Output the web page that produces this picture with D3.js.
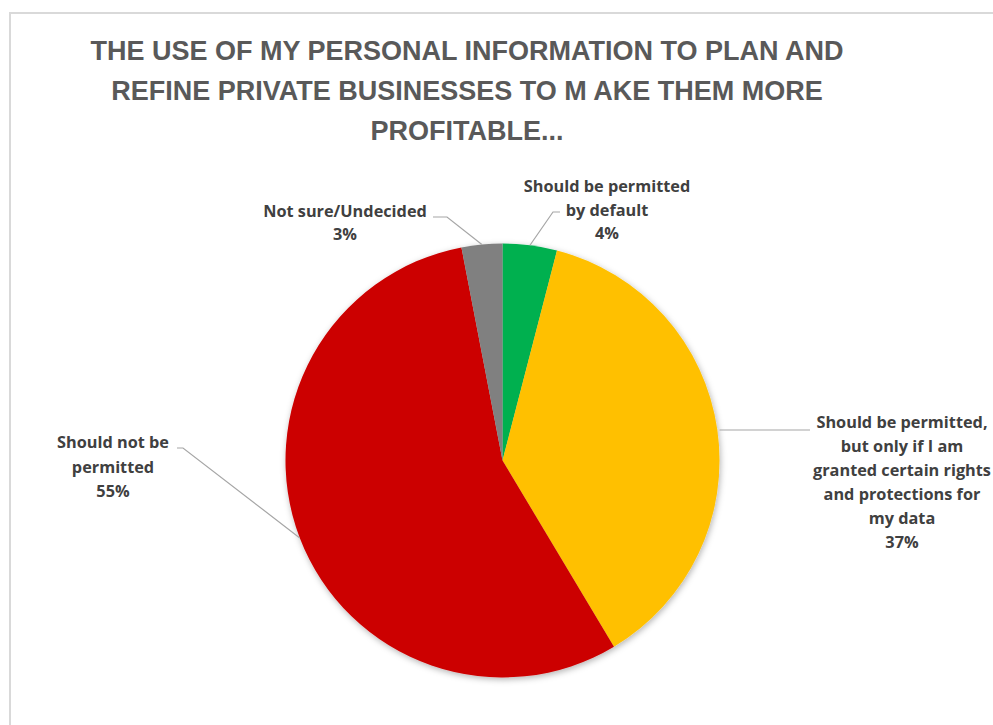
<!DOCTYPE html>
<html>
<head>
<meta charset="utf-8">
<script src="https://cdn.jsdelivr.net/npm/d3@7"></script>
<style>
  html, body { margin: 0; padding: 0; background: #fff; }
  svg { display: block; }
</style>
</head>
<body>
<svg id="chart" width="993" height="725"></svg>
<script>
// Survey answers, clockwise from 12 o'clock
const categories = [
  "Should be permitted by default",
  "Should be permitted, but only if I am granted certain rights and protections for my data",
  "Should not be permitted",
  "Not sure/Undecided"
];
const values = [4, 37, 55, 3];
const colors = ["#00B050", "#FFC000", "#CC0000", "#808080"];
// Label lines as they wrap on the chart
const labelLines = [
  ["Should be permitted", "by default", "4%"],
  ["Should be permitted,", "but only if I am", "granted certain rights", "and protections for", "my data", "37%"],
  ["Should not be", "permitted", "55%"],
  ["Not sure/Undecided", "3%"]
];
const titleLines = [
  "THE USE OF MY PERSONAL INFORMATION TO PLAN AND",
  "REFINE PRIVATE BUSINESSES TO M AKE THEM MORE",
  "PROFITABLE..."
];

const svg = d3.select("#chart");
const W = 993, H = 725;

// chart frame
svg.append("path")
  .attr("d", `M10,${H} L10,13 L${W},13`)
  .attr("fill", "none").attr("stroke", "#d9d9d9").attr("stroke-width", 2);

// title
svg.append("g").selectAll("text").data(titleLines).join("text")
  .attr("x", 467).attr("y", (d, i) => 60 + i * 40)
  .attr("text-anchor", "middle")
  .attr("font-family", "'Liberation Sans Narrow', 'Arial Narrow', sans-serif")
  .attr("font-weight", "bold").attr("font-size", 27)
  .attr("fill", "#595959")
  .text(d => d);

const cx = 502.5, cy = 460.5, R = 217;

const defs = svg.append("defs");
const f = defs.append("filter").attr("id", "shadow")
  .attr("x", "-10%").attr("y", "-10%").attr("width", "120%").attr("height", "120%");
f.append("feDropShadow").attr("dx", 1).attr("dy", 2).attr("stdDeviation", 3)
  .attr("flood-color", "#000").attr("flood-opacity", 0.3);

const pie = d3.pie().sort(null).value(d => d)(values);
const arc = d3.arc().innerRadius(0).outerRadius(R);

const g = svg.append("g").attr("transform", `translate(${cx},${cy})`);
g.append("g").attr("filter", "url(#shadow)")
  .selectAll("path").data(pie).join("path")
  .attr("d", arc)
  .attr("fill", (d, i) => colors[i]);

// label placement (centre x, first baseline y, line height) and leader line bends, page coords
const labelPos = [
  { x: 607, y: 192, lh: 23.5, bend: [[553, 212], [560, 212]] },
  { x: 902, y: 428, lh: 24, bend: [[810, 430]] },
  { x: 113, y: 448, lh: 24.5, bend: [[183, 448], [177, 448]] },
  { x: 345, y: 217, lh: 23, bend: [[447, 217], [433, 217]] }
];

pie.forEach((d, i) => {
  const p = labelPos[i];
  // leader line starts on the slice's outer edge (mid-slice; the big right slice at its label height)
  const a = (d.startAngle + d.endAngle) / 2;
  const start = i === 1 ? [cx + R, 430] : [cx + Math.sin(a) * R, cy - Math.cos(a) * R];
  svg.append("path")
    .attr("d", d3.line()([start, ...p.bend]))
    .attr("fill", "none").attr("stroke", "#a6a6a6").attr("stroke-width", 1.2);

  svg.append("g").selectAll("text").data(labelLines[i]).join("text")
    .attr("x", p.x).attr("y", (t, j) => p.y + j * p.lh)
    .attr("text-anchor", "middle")
    .attr("font-family", "'Open Sans', sans-serif")
    .attr("font-weight", "bold").attr("font-size", 16.3)
    .attr("fill", "#404040")
    .text(t => t);
});
</script>
</body>
</html>
